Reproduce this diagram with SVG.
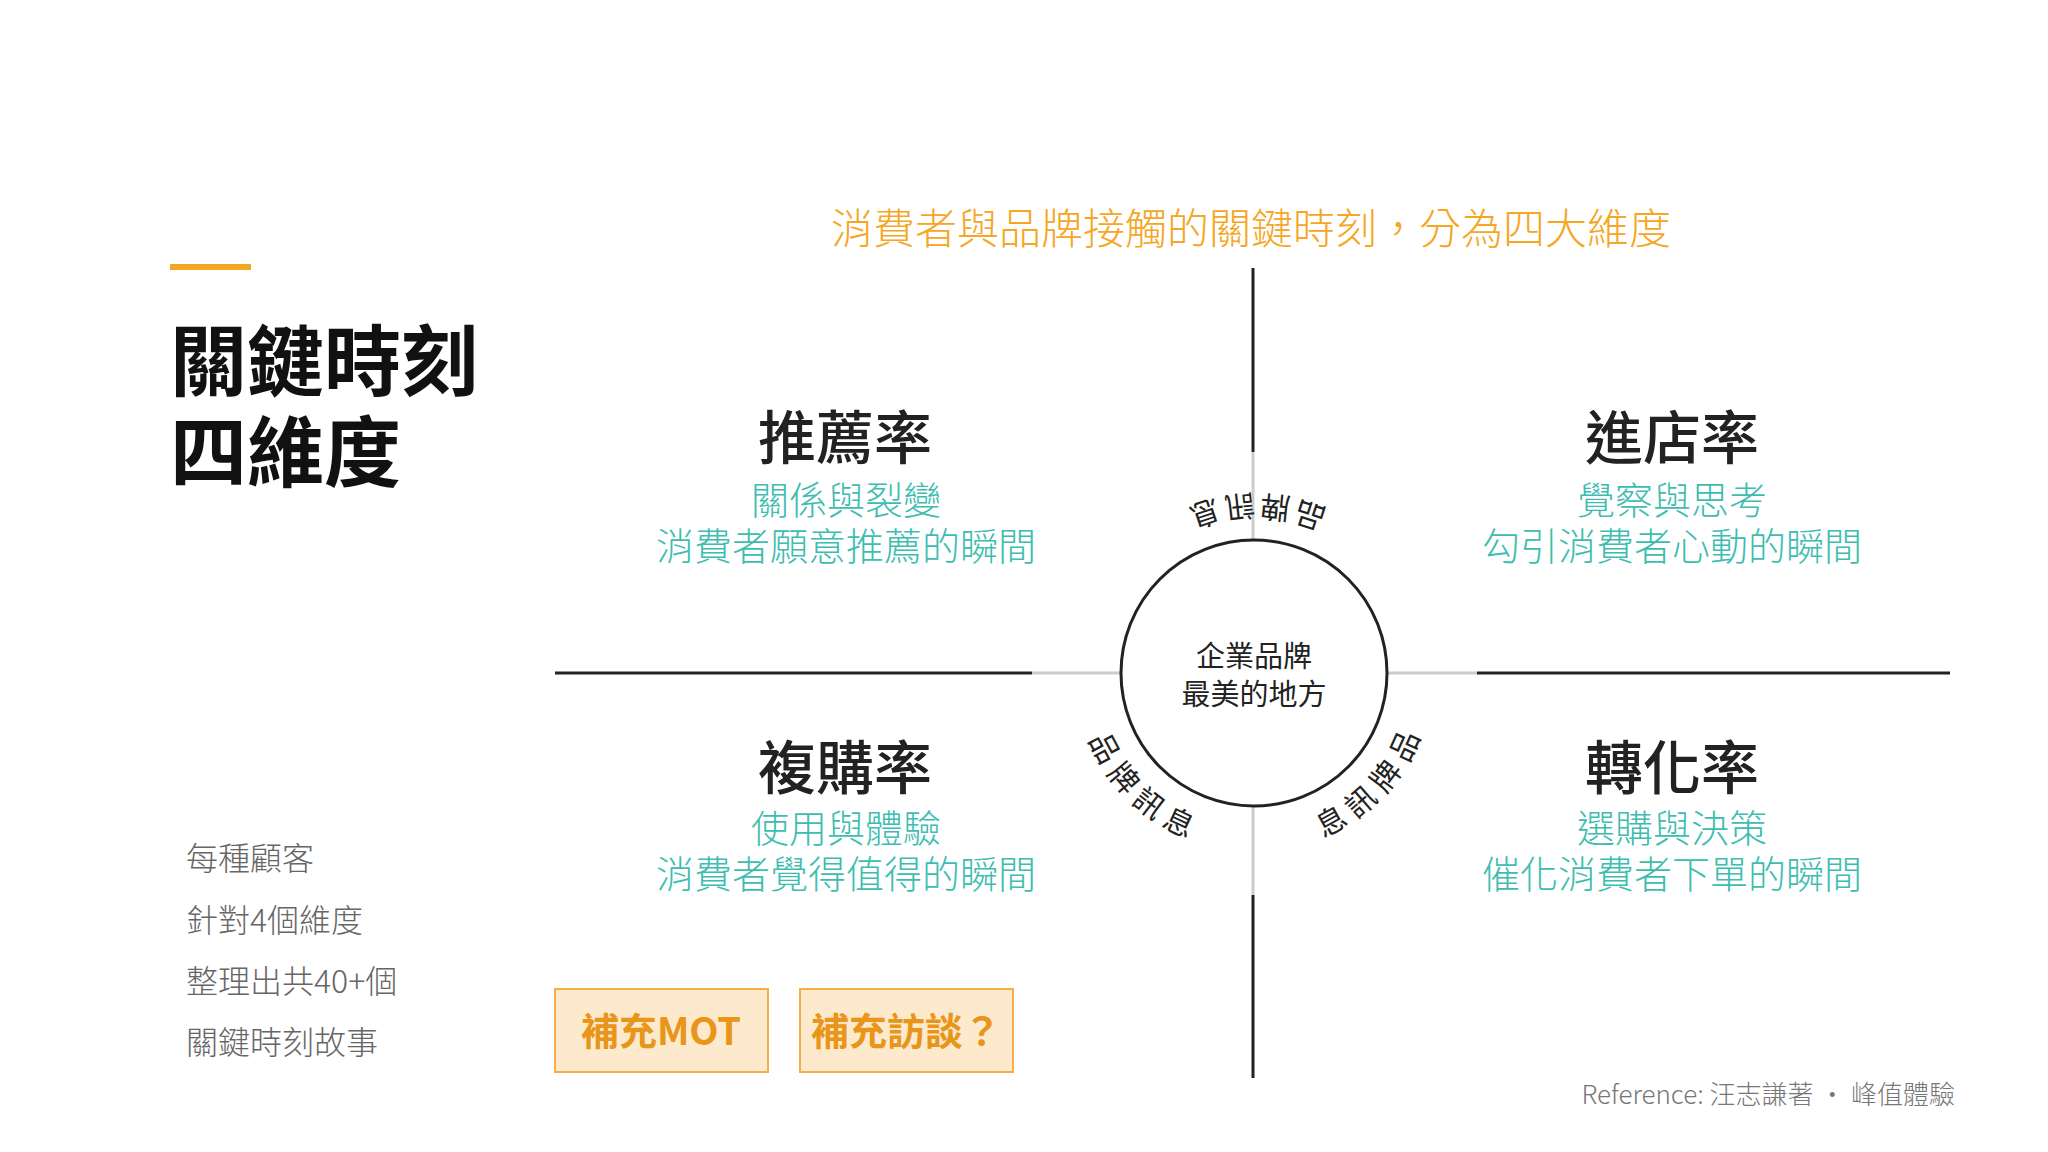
<svg xmlns="http://www.w3.org/2000/svg" xmlns:xlink="http://www.w3.org/1999/xlink" width="2048" height="1152" viewBox="0 0 2048 1152">
<style>
text{font-family:"Noto Sans CJK TC","Noto Sans CJK SC",sans-serif}
.h{font-size:58px;font-weight:500;fill:#222;text-anchor:middle}
.s{font-size:38px;fill:#3dbdb0;text-anchor:middle;font-weight:300}
.l{font-size:32px;fill:#666;font-weight:300}
.arc{font-size:30px;fill:#222;letter-spacing:8px}
.btn{fill:#fde9cc;stroke:#f3b04a;stroke-width:2}
.bt{font-size:38px;font-weight:700;fill:#e8951a;text-anchor:middle}
</style>
<defs>
<path id="ring" d="M1432 673 A178 178 0 1 0 1076 673 A178 178 0 1 0 1432 673"/>
</defs>
<rect width="2048" height="1152" fill="#fff"/>
<text x="1251" y="244" font-size="42" fill="#f5a623" text-anchor="middle" font-weight="300">消費者與品牌接觸的關鍵時刻，分為四大維度</text>
<rect x="170" y="264" width="81" height="6" fill="#f5a623"/>
<text x="170" y="390" font-size="77" font-weight="700" fill="#111">關鍵時刻</text>
<text x="170" y="481" font-size="77" font-weight="700" fill="#111">四維度</text>
<g id="connectors">
<line x1="1253" y1="268" x2="1253" y2="452" stroke="#222" stroke-width="3"/>
<line x1="1253" y1="452" x2="1253" y2="540" stroke="#ccc" stroke-width="3"/>
<line x1="1253" y1="806" x2="1253" y2="895" stroke="#ccc" stroke-width="3"/>
<line x1="1253" y1="895" x2="1253" y2="1078" stroke="#222" stroke-width="3"/>
<line x1="555" y1="673" x2="1032" y2="673" stroke="#222" stroke-width="3"/>
<line x1="1032" y1="673" x2="1120" y2="673" stroke="#ccc" stroke-width="3"/>
<line x1="1388" y1="673" x2="1477" y2="673" stroke="#ccc" stroke-width="3"/>
<line x1="1477" y1="673" x2="1950" y2="673" stroke="#222" stroke-width="3"/>
</g>
<g id="center">
<circle cx="1254" cy="673" r="133" fill="#fff" stroke="#222" stroke-width="3"/>
<text x="1254" y="667" font-size="29" fill="#222" text-anchor="middle">企業品牌</text>
<text x="1254" y="705" font-size="29" fill="#222" text-anchor="middle">最美的地方</text>
<text class="arc" text-anchor="middle"><textPath xlink:href="#ring" startOffset="280">品牌訊息</textPath></text>
<text class="arc" text-anchor="middle"><textPath xlink:href="#ring" startOffset="703">品牌訊息</textPath></text>
<text class="arc" text-anchor="middle"><textPath xlink:href="#ring" startOffset="985">息訊牌品</textPath></text>
</g>
<g id="q1"><text class="h" x="845" y="459">推薦率</text><text class="s" x="846" y="514">關係與裂變</text><text class="s" x="846" y="560">消費者願意推薦的瞬間</text></g>
<g id="q2"><text class="h" x="1672" y="459">進店率</text><text class="s" x="1672" y="514">覺察與思考</text><text class="s" x="1672" y="560">勾引消費者心動的瞬間</text></g>
<g id="q3"><text class="h" x="845" y="789">複購率</text><text class="s" x="846" y="842">使用與體驗</text><text class="s" x="846" y="888">消費者覺得值得的瞬間</text></g>
<g id="q4"><text class="h" x="1672" y="789">轉化率</text><text class="s" x="1672" y="842">選購與決策</text><text class="s" x="1672" y="888">催化消費者下單的瞬間</text></g>
<g id="list">
<text class="l" x="186" y="870">每種顧客</text>
<text class="l" x="186" y="932">針對4個維度</text>
<text class="l" x="186" y="993">整理出共40+個</text>
<text class="l" x="186" y="1054">關鍵時刻故事</text>
</g>
<g id="b1"><rect class="btn" x="555" y="989" width="213" height="83"/><text class="bt" x="661" y="1045">補充MOT</text></g>
<g id="b2"><rect class="btn" x="800" y="989" width="213" height="83"/><text class="bt" x="906" y="1045">補充訪談？</text></g>
<text x="1955" y="1104" font-size="26" fill="#777" text-anchor="end" font-weight="300">Reference: 汪志謙著 · 峰值體驗</text>
</svg>
